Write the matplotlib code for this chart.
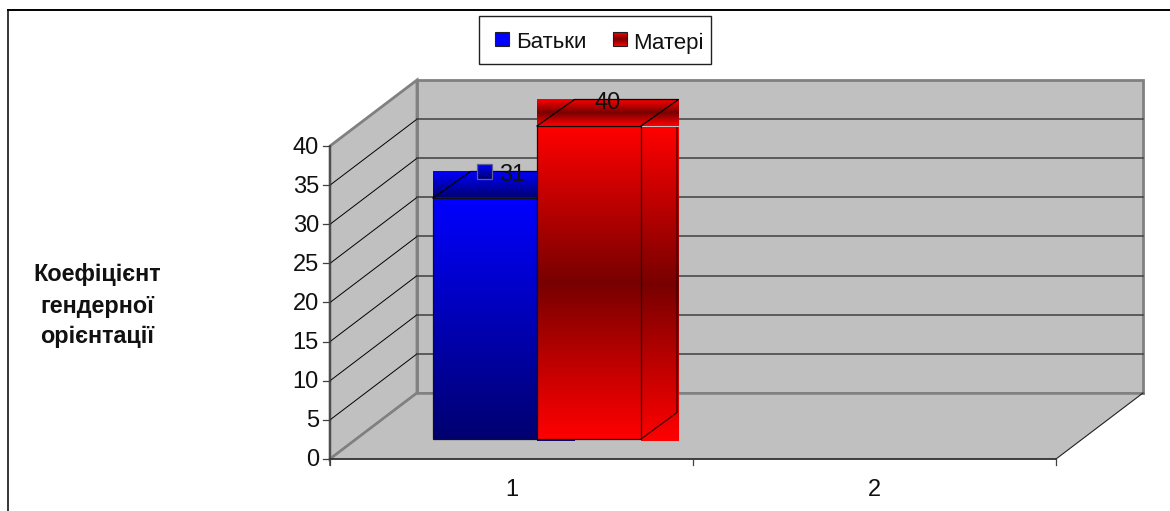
import matplotlib
matplotlib.use("Agg")
import matplotlib.pyplot as plt
import numpy as np
from matplotlib.colors import LinearSegmentedColormap
from matplotlib.patches import Polygon, Rectangle

plt.rcParams["font.family"] = ["Liberation Sans", "DejaVu Sans"]

# Data
series_names = ["Батьки", "Матері"]
series_values = [30.8, 40]
y_ticks = [0, 5, 10, 15, 20, 25, 30, 35, 40]
categories = ["1", "2"]
y_title = ["Коефіцієнт", "гендерної", "орієнтації"]

# Layout of the fake 3D box, in pixels
X0, Y0 = 330, 459
CAT_W = 363
UNIT = 7.825
DX, DY = 87, 66
BAR_LEFT = 0.2837
BAR_W = 0.2865
BAR_LIFT = 20
BAR_DX, BAR_DY = 37.5, 26.5
WALL = "#c0c0c0"
EDGE = "#808080"

blue_cmap = LinearSegmentedColormap.from_list("b", ["#0000ff", "#000070"])
red_cmap = LinearSegmentedColormap.from_list("r", ["#ff0000", "#780000", "#ff0000"])


def xp(cat):
    return X0 + cat * CAT_W


def yp(val):
    return Y0 - val * UNIT


def grad(ax, cmap, x1, x2, y1, y2, z):
    g = np.linspace(0, 1, 256).reshape(-1, 1)
    ax.imshow(g, cmap=cmap, extent=(x1, x2, y2, y1), aspect="auto", zorder=z,
              interpolation="bilinear", vmin=0, vmax=1)


fig = plt.figure(figsize=(11.7, 5.11), dpi=100)
ax = fig.add_axes([0, 0, 1, 1])
ax.axis("off")

# Chart area border (only top and left are visible)
ax.plot([7.5, 1170], [10.5, 10.5], color="black", lw=1.4, zorder=1)
ax.plot([7.5, 7.5], [10.5, 511], color="black", lw=1.1, zorder=1)

# Walls and floor
top = max(y_ticks)
x_end = xp(len(categories))
ax.add_patch(Polygon([(X0 + DX, yp(top) - DY), (x_end + DX, yp(top) - DY),
                      (x_end + DX, Y0 - DY), (X0 + DX, Y0 - DY)],
                     fc=WALL, ec=EDGE, lw=2, zorder=2))
ax.add_patch(Polygon([(X0, yp(top)), (X0 + DX, yp(top) - DY),
                      (X0 + DX, Y0 - DY), (X0, Y0)],
                     fc=WALL, ec=EDGE, lw=2, zorder=2))
ax.add_patch(Polygon([(X0, Y0), (X0 + DX, Y0 - DY), (x_end + DX, Y0 - DY), (x_end, Y0)],
                     fc=WALL, ec="none", zorder=2))
ax.plot([X0, X0 + DX], [Y0, Y0 - DY], color=EDGE, lw=1.8, zorder=3)
ax.plot([X0 + DX, x_end + DX], [Y0 - DY, Y0 - DY], color=EDGE, lw=1.8, zorder=3)
ax.plot([x_end, x_end + DX], [Y0, Y0 - DY], color="#202020", lw=0.8, zorder=3)

# Gridlines
for t in y_ticks[1:-1]:
    ax.plot([X0, X0 + DX], [yp(t), yp(t) - DY], color="black", lw=0.7, zorder=3)
    ax.plot([X0 + DX, x_end + DX], [yp(t) - DY, yp(t) - DY], color="#404040", lw=1.1, zorder=3)

# Axes lines, ticks and labels
ax.plot([X0, X0], [yp(top), Y0 + 6], color="#404040", lw=1.1, zorder=4)
ax.plot([X0, x_end], [Y0, Y0], color="#303030", lw=1.3, zorder=4)
for t in y_ticks:
    ax.plot([X0 - 7, X0], [yp(t), yp(t)], color="#404040", lw=0.9, zorder=4)
    ax.text(X0 - 11, yp(t) + 1.5, str(t), ha="right", va="center", fontsize=17, color="#111111")
for i in range(len(categories) + 1):
    ax.plot([xp(i), xp(i)], [Y0, Y0 + 6], color="#404040", lw=0.9, zorder=4)
for i, c in enumerate(categories):
    ax.text(xp(i + 0.5), 490.5, c, ha="center", va="center", fontsize=17, color="#111111")

# Bars
base = Y0 - BAR_LIFT
cmaps = [blue_cmap, red_cmap]
for i, v in enumerate(series_values):
    z = 10 + i * 10
    x1 = xp(BAR_LEFT + i * BAR_W)
    x2 = xp(BAR_LEFT + (i + 1) * BAR_W)
    ytop = base - v * UNIT
    cmap = cmaps[i]
    # side, top and front: gradients fill the bounding box of each face
    grad(ax, cmap, x2, x2 + BAR_DX + 0.5, ytop + 1, base + 2, z)
    grad(ax, cmap, x1, x2 + BAR_DX + 0.5, ytop - BAR_DY, ytop, z + 1)
    grad(ax, cmap, x1, x2, ytop, base, z + 2)
    ax.add_patch(Rectangle((x1, ytop), x2 - x1, base - ytop, fc="none", ec="#101010", lw=0.9, zorder=z + 3))
    ax.plot([x1, x1 + BAR_DX, x2 + BAR_DX, x2], [ytop, ytop - BAR_DY, ytop - BAR_DY, ytop],
            color="black", lw=0.9, zorder=z + 3)
    ax.plot([x2 + BAR_DX - 1.5, x2 + BAR_DX - 1.5, x2], [ytop + 2, base - BAR_DY, base],
            color="#400000" if i else "#000040", lw=0.9, zorder=z + 3)

# Data labels
blue_x = xp(BAR_LEFT + 0.5 * BAR_W)
blue_y = base - series_values[0] * UNIT - BAR_DY
grad(ax, blue_cmap, blue_x - 8, blue_x + 7, blue_y - 7.5, blue_y + 7.5, 40)
ax.add_patch(Rectangle((blue_x - 8, blue_y - 7.5), 15, 15, fc="none", ec="#606090", lw=0.9, zorder=41))
ax.text(blue_x + 14, blue_y + 3.5, f"{series_values[0]:.0f}", ha="left", va="center",
        fontsize=17, color="#111111", zorder=42)
red_x = xp(BAR_LEFT + 1.5 * BAR_W) + BAR_DX / 2
red_y = base - series_values[1] * UNIT - BAR_DY
ax.text(red_x, red_y + 3.5, f"{series_values[1]:.0f}", ha="center", va="center",
        fontsize=17, color="#111111", zorder=42)

# Legend
ax.add_patch(Rectangle((479, 16), 232, 48.5, fc="white", ec="#202020", lw=1, zorder=50))
swatch_x = [495, 613]
label_x = [516, 633]
ax.add_patch(Rectangle((swatch_x[0], 32), 14, 14, fc="#0000ff", ec="#202020", lw=0.8, zorder=52))
grad(ax, red_cmap, swatch_x[1], swatch_x[1] + 14, 32, 46, 51)
ax.add_patch(Rectangle((swatch_x[1], 32), 14, 14, fc="none", ec="#202020", lw=0.8, zorder=52))
for x, name in zip(label_x, series_names):
    ax.text(x, 43, name, ha="left", va="center", fontsize=16, color="#111111", zorder=52)

# Axis title
for line, y in zip(y_title, [274.5, 306.5, 336.5]):
    ax.text(97, y, line, ha="center", va="center", fontsize=16.8, fontweight="bold", color="#111111")

ax.set_xlim(0, 1170)
ax.set_ylim(511, 0)
fig.savefig("out.png", dpi=100)
